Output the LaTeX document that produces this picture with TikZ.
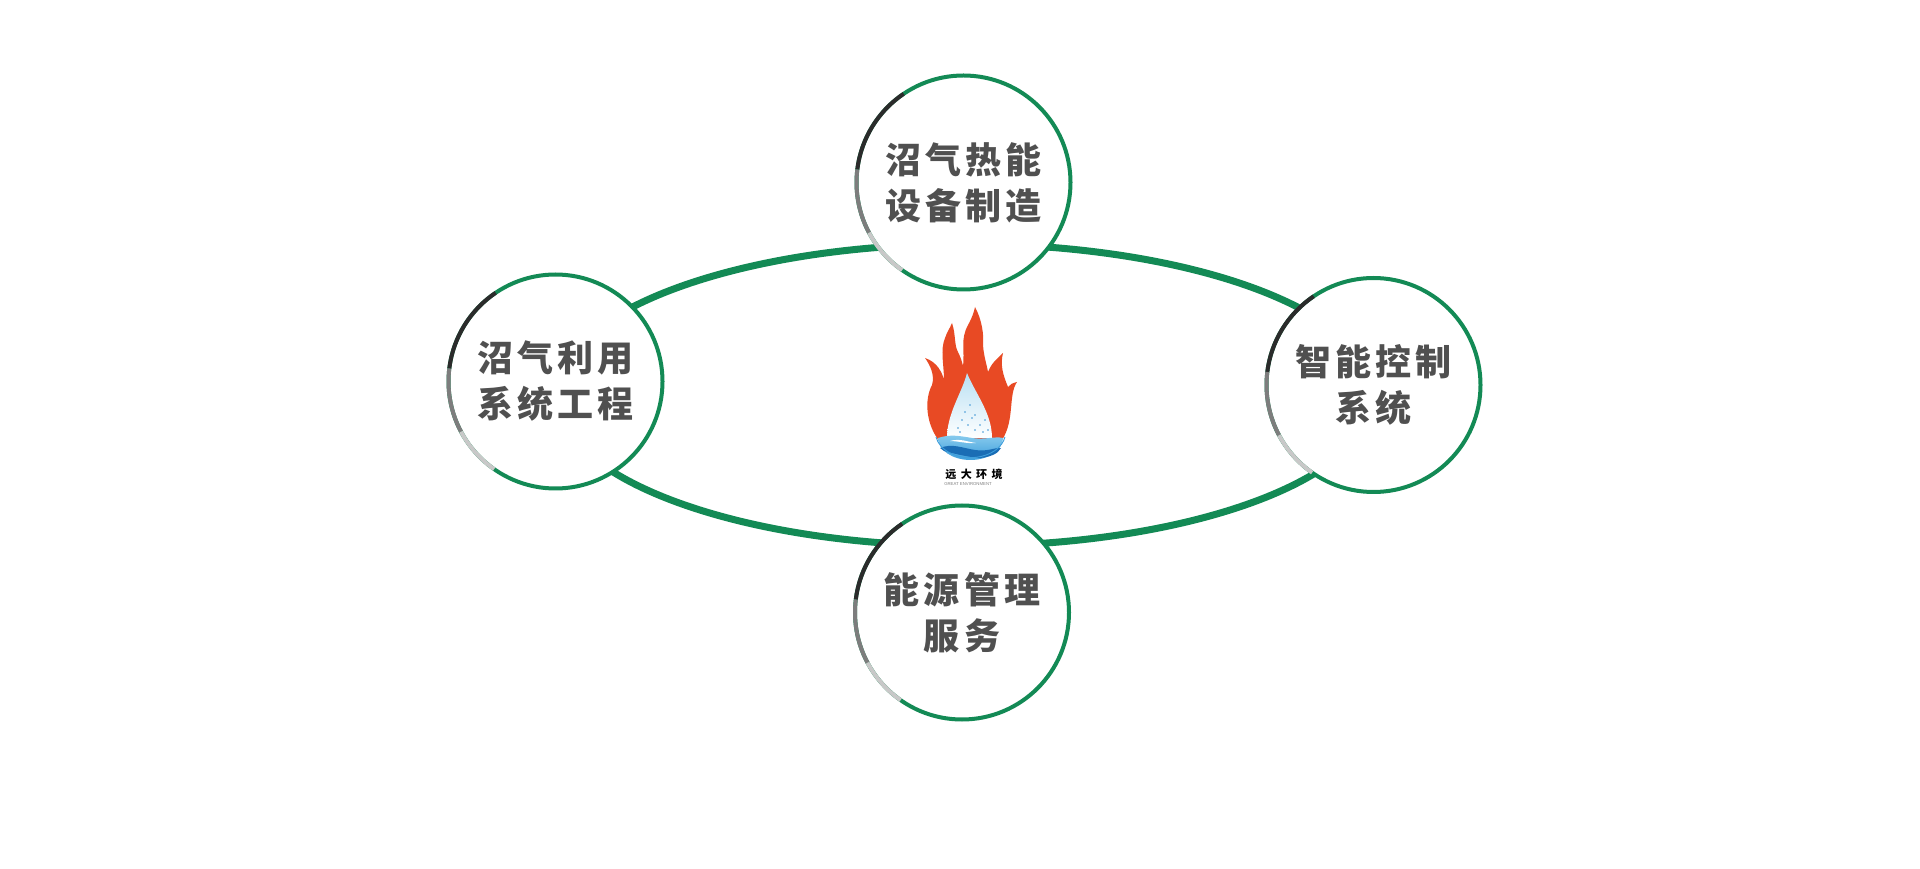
\documentclass[tikz,border=0pt]{standalone}
\usepackage{fontspec}
\newfontfamily\cjk[LetterSpace=12]{Noto Sans CJK SC}
\newfontfamily\cjklogo[LetterSpace=40]{Noto Sans CJK SC}
\setsansfont{Liberation Sans}
\definecolor{ringgreen}{HTML}{138A55}
\definecolor{arcdark}{HTML}{2B2B2B}
\definecolor{arcmid}{HTML}{7D7D7D}
\definecolor{arclight}{HTML}{C8C8C8}
\definecolor{labelgray}{HTML}{505050}
\definecolor{flamered}{HTML}{E84A24}
\definecolor{tearblue}{HTML}{B9E0F3}
\definecolor{waterlight}{HTML}{8ACCEE}
\definecolor{waterdark}{HTML}{1A6DB5}
\definecolor{watermid}{HTML}{3E9EDB}
\definecolor{dotblue}{HTML}{3F95D4}
\tikzset{
  ringline/.style={draw=ringgreen, line width=7pt},
  bubble/.style={circle, draw=ringgreen, fill=white, line width=4pt,
    minimum size=214pt, inner sep=0pt, outer sep=0pt, align=center,
    text=labelgray, font=\cjk\bfseries\fontsize{36}{46}\selectfont},
  segdark/.style={draw=arcdark, line width=4pt},
  segmid/.style={draw=arcmid, line width=4pt},
  seglight/.style={draw=arclight, line width=4pt},
}
\begin{document}
\begin{tikzpicture}[x=1pt,y=1pt]
\fill[white] (0,0) rectangle (1920,868);
\useasboundingbox (0,0) rectangle (1920,868);

% ring
\draw[ringline] (965,473) ellipse[x radius=409, y radius=151];

% bubbles
\node[bubble] (topc) at (963.5,685.5) {沼气热能\\设备制造};
\node[bubble] (leftc) at (555.5,486.5) {沼气利用\\系统工程};
\node[bubble] (rightc) at (1373.5,483) {智能控制\\系统};
\node[bubble] (botc) at (962,255.5) {能源管理\\服务};

\foreach \c in {topc,leftc,rightc,botc}{
  \draw[segdark] (\c.124) arc[start angle=124, end angle=173, radius=107];
  \draw[segmid] (\c.173) arc[start angle=173, end angle=208, radius=107];
  \draw[seglight] (\c.208) arc[start angle=208, end angle=235, radius=107];
}

% logo: flame
\fill[flamered] (940,426)
  .. controls (926,443) and (924,468) .. (932,483)
  .. controls (935,493) and (930,503) .. (925,510)
  .. controls (937,506) and (942,496) .. (944,488)
  .. controls (944,503) and (940,518) .. (945,530)
  .. controls (947,536) and (950,540) .. (952,545)
  .. controls (956,533) and (954,523) .. (958,516)
  .. controls (961,510) and (962,506) .. (963,502)
  .. controls (965,518) and (960,528) .. (968,543)
  .. controls (972,550) and (974,556) .. (975,561)
  .. controls (982,548) and (984,533) .. (983,523)
  .. controls (984,510) and (987,503) .. (988,496)
  .. controls (992,506) and (998,510) .. (1003,515)
  .. controls (1000,503) and (1003,493) .. (1008,481)
  .. controls (1010,484) and (1013,485) .. (1017,486)
  .. controls (1008,473) and (1015,448) .. (1002,428)
  -- cycle;
% inner teardrop
\shade[top color=tearblue, bottom color=white] (967,495)
  .. controls (962,475) and (947,455) .. (947,430)
  -- (992,430)
  .. controls (992,455) and (975,475) .. (967,495) -- cycle;
% dots
\foreach \p in {(958,440),(962,448),(965,456),(970,463),(975,453),(980,443),(985,448),(975,438),(968,443),(988,438),(960,436),(972,450),(983,436)}{
  \fill[dotblue] \p circle[radius=0.9];
}
% water
\shade[top color=waterlight, bottom color=watermid]
  (938,430) .. controls (950,434) and (960,432) .. (972,430)
  .. controls (985,428) and (995,432) .. (1003,430)
  arc[start angle=0, end angle=-180, x radius=32.5, y radius=22] -- cycle;
\fill[waterdark] (940,420) .. controls (952,425) and (962,420) .. (975,418)
  .. controls (988,416) and (996,421) .. (1001,420)
  .. controls (998,414) and (990,411) .. (980,410)
  .. controls (968,411) and (955,414) .. (944,417) -- cycle;
\fill[white] (950,427) .. controls (960,430) and (968,426) .. (976,425)
  .. controls (968,424) and (958,427) .. (950,427) -- cycle;
\draw[watermid, line width=0.9pt] (936,431) arc[start angle=190, end angle=350, x radius=35, y radius=25];

% logo text
\node[font=\cjklogo\bfseries\fontsize{11}{11}\selectfont, text=black, inner sep=0pt] (logotxt) at (974,394) {远大环境};
\node[font=\sffamily\fontsize{4.3}{4.3}\selectfont, text=gray, inner sep=0pt] (logosub) at (968,384) {GREAT ENVIRONMENT};
\end{tikzpicture}
\end{document}
